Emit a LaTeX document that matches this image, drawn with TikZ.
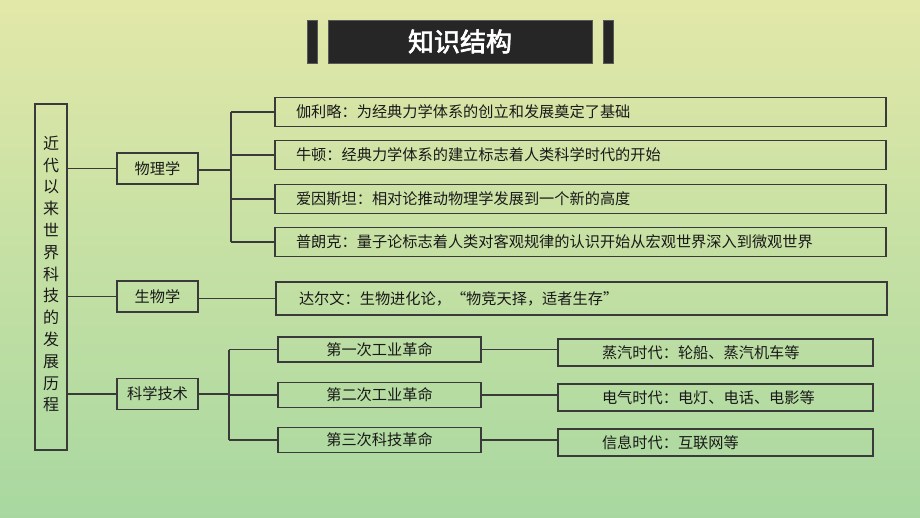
\documentclass[tikz,border=0pt]{standalone}
\usepackage{fontspec}
\usepackage{xcolor}
\usetikzlibrary{positioning,calc}
\newfontfamily\cjk{Noto Sans CJK SC}
\newfontfamily\cjkbold{Noto Sans CJK SC}[FakeBold=2.5]
\definecolor{bgtop}{HTML}{E2E8A8}
\definecolor{bgbot}{HTML}{A8D8A0}
\definecolor{ink}{HTML}{3A3A3A}
\definecolor{barfill}{HTML}{262626}

\begin{document}
\begin{tikzpicture}[x=1pt,y=-1pt,
    box/.style={draw=ink,line width=1.3pt,inner sep=0pt,text=black!90,font=\cjk\fontsize{15.2}{18}\selectfont},
    topic/.style={box,minimum width=81pt,minimum height=31pt},
    fact/.style={box,minimum width=611pt,minimum height=29pt,text width=569pt,align=left},
    stage/.style={box,minimum width=203pt,minimum height=25pt},
    era/.style={box,minimum width=315pt,minimum height=27pt,text width=227pt,align=left},
    link/.style={draw=ink,line width=1.3pt}]
  % Background
  \shade[top color=bgtop,bottom color=bgbot] (0,0) rectangle (920,518);
  \useasboundingbox (0,0) rectangle (920,518);
  % Title bar
  \fill[barfill,draw=gray!70!black] (307,20) rectangle (317,63);
  \fill[barfill,draw=gray!70!black] (603,20) rectangle (613,63);
  \node[fill=barfill,draw=gray!70!black,minimum width=264pt,minimum height=43pt,
        text=white,font=\cjkbold\fontsize{26}{30}\selectfont] (title) at (460,41.5) {知识结构};
  % Root column
  \node[box,minimum width=32pt,minimum height=346pt] (root) at (51,277) {};
  \node[text=black!90,font=\cjk\fontsize{16}{21.8}\selectfont,align=center,inner sep=0pt] (roottxt) at (51,274)
    {近\\代\\以\\来\\世\\界\\科\\技\\的\\发\\展\\历\\程};
  % Three topics
  \node[topic] (phys) at (157.5,168.5) {物理学};
  \node[topic] (bio) at (157.5,296.5) {生物学};
  \node[topic] (tech) at (157.5,394) {科学技术};
  \foreach \t in {phys,bio,tech}{
    \draw[link] (root.east |- \t.west) -- (\t.west);
  }
  % Physics facts
  \node[fact] (g1) at (580.5,112) {伽利略：为经典力学体系的创立和发展奠定了基础};
  \node[fact] (g2) at (580.5,155) {牛顿：经典力学体系的建立标志着人类科学时代的开始};
  \node[fact] (g3) at (580.5,199) {爱因斯坦：相对论推动物理学发展到一个新的高度};
  \node[fact] (g4) at (580.5,242) {普朗克：量子论标志着人类对客观规律的认识开始从宏观世界深入到微观世界};
  \coordinate (pbus) at (231,170);
  \draw[link] (phys.east |- pbus) -- (pbus);
  \draw[link] (pbus |- g1.west) -- (pbus |- g4.west);
  \foreach \i in {1,2,3,4}{
    \draw[link] (pbus |- g\i.west) -- (g\i.west);
  }
  % Biology fact
  \node[fact,minimum height=33pt,text width=565pt] (d1) at (581.5,298.5) {达尔文：生物进化论，“物竞天择，适者生存”};
  \draw[link] (bio.east |- d1.west) -- (d1.west);
  % Technology revolutions
  \node[stage] (s1) at (379.5,349.5) {第一次工业革命};
  \node[stage] (s2) at (379.5,395) {第二次工业革命};
  \node[stage] (s3) at (379.5,440) {第三次科技革命};
  \node[era] (e1) at (715.5,352.5) {蒸汽时代：轮船、蒸汽机车等};
  \node[era] (e2) at (715.5,397.5) {电气时代：电灯、电话、电影等};
  \node[era] (e3) at (715.5,442.5) {信息时代：互联网等};
  \coordinate (tbus) at (229,394);
  \draw[link] (tech.east) -- (tbus);
  \draw[link] (tbus |- s1.west) -- (tbus |- s3.west);
  \foreach \i in {1,2,3}{
    \draw[link] (tbus |- s\i.west) -- (s\i.west);
    \draw[link] (s\i.east) -- (s\i.east -| e\i.west);
  }
\end{tikzpicture}
\end{document}
